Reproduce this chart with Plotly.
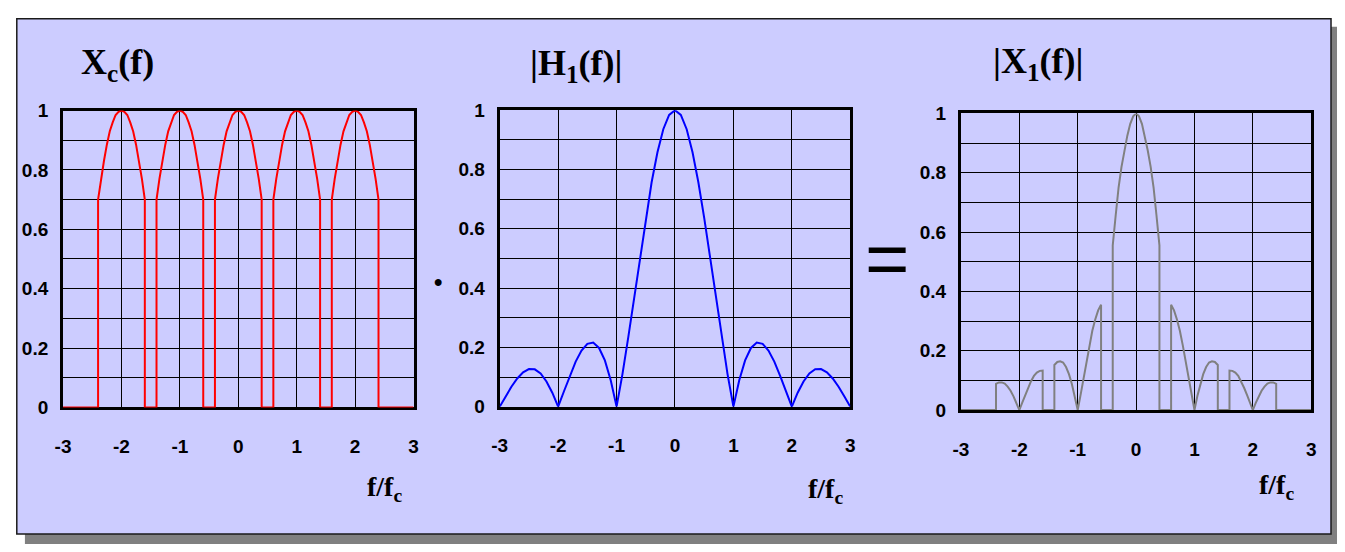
import plotly.graph_objects as go

# ---------------- data ----------------
X_TICKS = [-3, -2, -1, 0, 1, 2, 3]
X_TICK_TEXT = ["-3", "-2", "-1", "0", "1", "2", "3"]
Y_TICKS = [0, 0.2, 0.4, 0.6, 0.8, 1.0]
Y_TICK_TEXT = ["0", "0.2", "0.4", "0.6", "0.8", "1"]
Y_MINOR = [0.1, 0.3, 0.5, 0.7, 0.9]

# Panel 1: Xc(f) - replicated lobes (centers, lobe profile)
XC_CENTERS = [-2, -1, 0, 1, 2]
XC_LOBE_OFFSET = [-0.4, -0.35, -0.3, -0.25, -0.2, -0.15, -0.1, -0.05, 0.0,
                  0.05, 0.1, 0.15, 0.2, 0.25, 0.3, 0.35, 0.4]
XC_LOBE_VALUE = [0.70, 0.77, 0.83, 0.885, 0.93, 0.96, 0.985, 0.996, 1.0,
                 0.996, 0.985, 0.96, 0.93, 0.885, 0.83, 0.77, 0.70]

# Panel 2: |H1(f)|
H1_X = [-3.0, -2.9, -2.8, -2.7, -2.6, -2.5, -2.4, -2.3, -2.2, -2.1, -2.0,
        -1.9, -1.8, -1.7, -1.6, -1.5, -1.4, -1.3, -1.2, -1.1, -1.0,
        -0.9, -0.8, -0.7, -0.6, -0.5, -0.4, -0.3, -0.2, -0.1, 0.0,
        0.1, 0.2, 0.3, 0.4, 0.5, 0.6, 0.7, 0.8, 0.9, 1.0,
        1.1, 1.2, 1.3, 1.4, 1.5, 1.6, 1.7, 1.8, 1.9, 2.0,
        2.1, 2.2, 2.3, 2.4, 2.5, 2.6, 2.7, 2.8, 2.9, 3.0]
H1_Y = [0.0, 0.034, 0.067, 0.095, 0.116, 0.127, 0.126, 0.112, 0.085, 0.047, 0.0,
        0.052, 0.104, 0.152, 0.189, 0.212, 0.216, 0.198, 0.156, 0.089, 0.0,
        0.109, 0.234, 0.368, 0.505, 0.637, 0.757, 0.858, 0.936, 0.984, 1.0,
        0.984, 0.936, 0.858, 0.757, 0.637, 0.505, 0.368, 0.234, 0.109, 0.0,
        0.089, 0.156, 0.198, 0.216, 0.212, 0.189, 0.152, 0.104, 0.052, 0.0,
        0.047, 0.085, 0.112, 0.126, 0.127, 0.116, 0.095, 0.067, 0.034, 0.0]

# Panel 3: |X1(f)| lobes
X1_LOBE_X = [
    [-2.4, -2.35, -2.3, -2.25, -2.2, -2.15, -2.1, -2.05, -2.0, -1.95, -1.9, -1.85, -1.8, -1.75, -1.7, -1.65, -1.6],
    [-1.4, -1.35, -1.3, -1.25, -1.2, -1.15, -1.1, -1.05, -1.0, -0.95, -0.9, -0.85, -0.8, -0.75, -0.7, -0.65, -0.6],
    [-0.4, -0.35, -0.3, -0.25, -0.2, -0.15, -0.1, -0.05, 0.0, 0.05, 0.1, 0.15, 0.2, 0.25, 0.3, 0.35, 0.4],
    [0.6, 0.65, 0.7, 0.75, 0.8, 0.85, 0.9, 0.95, 1.0, 1.05, 1.1, 1.15, 1.2, 1.25, 1.3, 1.35, 1.4],
    [1.6, 1.65, 1.7, 1.75, 1.8, 1.85, 1.9, 1.95, 2.0, 2.05, 2.1, 2.15, 2.2, 2.25, 2.3, 2.35, 2.4],
]
X1_LOBE_Y = [
    [0.088, 0.093, 0.093, 0.089, 0.079, 0.065, 0.046, 0.024, 0.0, 0.025, 0.051, 0.075, 0.097, 0.115, 0.126, 0.132, 0.133],
    [0.152, 0.162, 0.164, 0.160, 0.145, 0.121, 0.088, 0.047, 0.0, 0.052, 0.108, 0.163, 0.218, 0.267, 0.305, 0.336, 0.355],
    [0.555, 0.655, 0.75, 0.82, 0.875, 0.925, 0.965, 0.99, 1.0, 0.99, 0.965, 0.925, 0.875, 0.82, 0.75, 0.655, 0.555],
    [0.355, 0.336, 0.305, 0.267, 0.218, 0.163, 0.108, 0.052, 0.0, 0.047, 0.088, 0.121, 0.145, 0.160, 0.164, 0.162, 0.152],
    [0.133, 0.132, 0.126, 0.115, 0.097, 0.075, 0.051, 0.025, 0.0, 0.024, 0.046, 0.065, 0.079, 0.089, 0.093, 0.093, 0.088],
]

TITLES = ["X<sub>c</sub>(f)", "|H<sub>1</sub>(f)|", "|X<sub>1</sub>(f)|"]
XLABEL = "f/f<sub>c</sub>"
X_MIN, X_MAX = -3, 3

# ---------------- build traces ----------------
def build_lobed(lobe_xs, lobe_ys):
    xs, ys = [X_MIN], [0.0]
    for lx, ly in zip(lobe_xs, lobe_ys):
        xs += [lx[0]] + list(lx) + [lx[-1]]
        ys += [0.0] + list(ly) + [0.0]
    xs.append(X_MAX)
    ys.append(0.0)
    return xs, ys

xc_lobe_x = [[c + o for o in XC_LOBE_OFFSET] for c in XC_CENTERS]
xc_lobe_y = [list(XC_LOBE_VALUE) for _ in XC_CENTERS]
p1x, p1y = build_lobed(xc_lobe_x, xc_lobe_y)
p3x, p3y = build_lobed(X1_LOBE_X, X1_LOBE_Y)

# The page keeps the default 8px body margin, so the figure is sized to fit
# inside the 1345x552 window and page-pixel positions are shifted by that margin.
PAGE_MARGIN = 8
W, H = 1345 - 2 * PAGE_MARGIN, 552 - 2 * PAGE_MARGIN

def fx(p):
    return (p - PAGE_MARGIN) / W

def fy(p):
    return 1 - (p - PAGE_MARGIN) / H

fig = go.Figure()
fig.add_trace(go.Scatter(x=p1x, y=p1y, mode="lines", line=dict(color="#FF0000", width=2),
                         xaxis="x", yaxis="y", showlegend=False, hoverinfo="skip"))
fig.add_trace(go.Scatter(x=H1_X, y=H1_Y, mode="lines", line=dict(color="#0000FF", width=2),
                         xaxis="x2", yaxis="y2", showlegend=False, hoverinfo="skip"))
fig.add_trace(go.Scatter(x=p3x, y=p3y, mode="lines", line=dict(color="#808080", width=2),
                         xaxis="x3", yaxis="y3", showlegend=False, hoverinfo="skip"))

# panel pixel boxes (page pixels): left, right, top, bottom
panels = [(55.5, 409.5, 104.3, 413.3), (496.5, 850.5, 104.0, 412.5), (962.3, 1316.0, 107.3, 416.0)]
tickfont = dict(family="Liberation Sans, Arial", size=19, color="black", weight="bold")

layout = dict(
    width=W, height=H, autosize=False,
    margin=dict(l=0, r=0, t=0, b=0),
    paper_bgcolor="white", plot_bgcolor="rgba(0,0,0,0)",
    showlegend=False,
)
layers = ["below traces", "below traces", "above traces"]
for i, (l, r, t, b) in enumerate(panels):
    sfx = "" if i == 0 else str(i + 1)
    layout["xaxis" + sfx] = dict(
        domain=[fx(l), fx(r)], range=[X_MIN, X_MAX], anchor="y" + sfx,
        tickvals=X_TICKS, ticktext=X_TICK_TEXT, tickfont=tickfont,
        showgrid=True, gridcolor="black", gridwidth=1, zeroline=False,
        showline=True, linecolor="black", linewidth=3, mirror=True,
        ticks="", ticklabelstandoff=20, layer=layers[i], fixedrange=True,
    )
    layout["yaxis" + sfx] = dict(
        domain=[fy(b), fy(t)], range=[0, 1], anchor="x" + sfx,
        tickvals=Y_TICKS, ticktext=Y_TICK_TEXT, tickfont=tickfont,
        showgrid=True, gridcolor="black", gridwidth=1, zeroline=False,
        minor=dict(tickvals=Y_MINOR, showgrid=True, gridcolor="black", gridwidth=1, ticks=""),
        showline=True, linecolor="black", linewidth=3, mirror=True,
        ticks="", ticklabelstandoff=8, layer=layers[i], fixedrange=True,
    )

shapes = [
    dict(type="rect", xref="paper", yref="paper", x0=fx(17), x1=fx(1360), y0=fy(570), y1=fy(17),
         fillcolor="#808080", line=dict(width=0), layer="below"),
    dict(type="rect", xref="paper", yref="paper", x0=fx(8.8), x1=fx(1336), y0=fy(545), y1=fy(8.8),
         fillcolor="#CCCCFF", line=dict(color="#1a1a1a", width=1.5), layer="below"),
]
layout["shapes"] = shapes

titlefont = dict(family="Liberation Serif, Times New Roman", size=36, color="black", weight="bold")
labelfont = dict(family="Liberation Serif, Times New Roman", size=28, color="black", weight="bold")
ann = []
for txt, cx, cy in zip(TITLES, [110, 574, 1040], [56, 57, 55]):
    ann.append(dict(text=txt, x=fx(cx), y=fy(cy), xref="paper", yref="paper",
                    xanchor="center", yanchor="middle", showarrow=False, font=titlefont))
for cx, cy in zip([380, 825, 1281], [498, 500, 496]):
    ann.append(dict(text=XLABEL, x=fx(cx), y=fy(cy), xref="paper", yref="paper",
                    xanchor="center", yanchor="middle", showarrow=False, font=labelfont))
ann.append(dict(text="•", x=fx(434), y=fy(282), xref="paper", yref="paper",
                xanchor="center", yanchor="middle", showarrow=False,
                font=dict(family="Liberation Sans, Arial", size=24, color="black", weight="bold")))
ann.append(dict(text="=", x=fx(888), y=fy(258), xref="paper", yref="paper",
                xanchor="center", yanchor="middle", showarrow=False,
                font=dict(family="Liberation Sans, Arial", size=76, color="black", weight="normal")))
layout["annotations"] = ann

fig.update_layout(**layout)
fig.write_html(
    "out.html",
    config={"displayModeBar": False},
    # extend the grey drop shadow into the page margin on the right/bottom
    post_script="document.getElementById('{plot_id}').style.boxShadow='8px 8px 0 #808080';",
)
